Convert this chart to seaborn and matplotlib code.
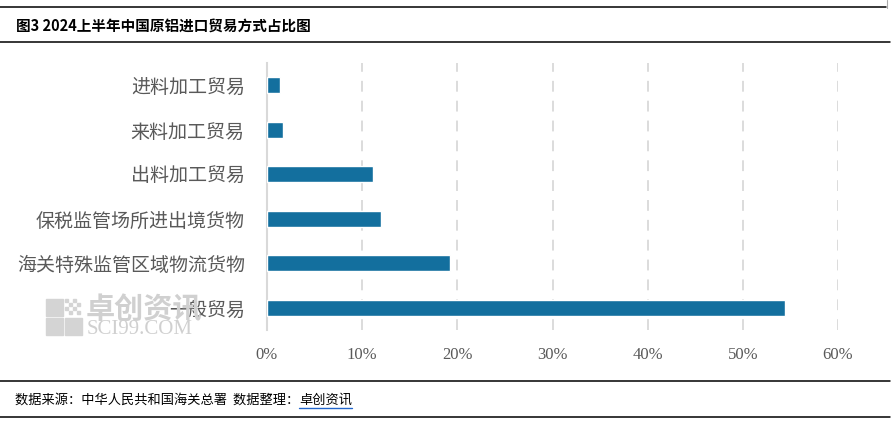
import numpy as np
import pandas as pd
import matplotlib
matplotlib.use("Agg")
import matplotlib.pyplot as plt
import seaborn as sns
from matplotlib.lines import Line2D
from matplotlib.patches import Rectangle
from matplotlib.ticker import PercentFormatter

# data
categories = ['进料加工贸易', '来料加工贸易', '出料加工贸易',
              '保税监管场所进出境货物', '海关特殊监管区域物流货物', '一般贸易']
shares = [1.4, 1.7, 11.1, 12.0, 19.2, 54.4]
xticks = [0, 10, 20, 30, 40, 50, 60]

title = '图3 2024上半年中国原铝进口贸易方式占比图'
source = '数据来源：中华人民共和国海关总署  数据整理：'
source_link = '卓创资讯'

BAR = '#136f9e'
GRID = '#d9d9d9'
TXT = '#595959'
WM = '#d0d0d0'

sns.set_theme(style='white')
plt.rcParams['font.family'] = ['Noto Sans CJK SC', 'DejaVu Sans']

df = pd.DataFrame({'cat': categories, 'share': shares})

W, H = 892, 422
fig = plt.figure(figsize=(W / 100, H / 100), dpi=100)
ax = fig.add_axes([267 / W, 1 - 330 / H, (838 - 267) / W, (330 - 63) / H])

# watermark behind the chart
for (x0, y0) in [(46, 299), (46, 318), (65, 318)]:
    fig.patches.append(Rectangle((x0 / W, 1 - (y0 + 17) / H), 17 / W, 17 / H,
                                 transform=fig.transFigure, color='#d4d4d4', zorder=0))
for i in range(4):
    for j in range(4):
        if (i + j) % 2 == 0:
            fig.patches.append(Rectangle(((65 + i * 4) / W, 1 - (299 + j * 4 + 3) / H), 3 / W, 3 / H,
                                         transform=fig.transFigure, color='#d4d4d4', zorder=0))
fig.text(86 / W, 1 - 309 / H, '卓创资讯', fontsize=21, color=WM,
         fontweight='bold', va='center', ha='left', zorder=0)
fig.text(87 / W, 1 - 329 / H, 'SCI99.COM', fontsize=15, color=WM,
         family='Liberation Serif', va='center', ha='left', zorder=0)

ax.patch.set_alpha(0)
sns.barplot(data=df, x='share', y='cat', color=BAR, width=0.36,
            saturation=1, ax=ax, zorder=3)

ax.set_xlim(0, 60)
ax.set_xticks(xticks)
ax.xaxis.set_major_formatter(PercentFormatter(decimals=0))
ax.set_xlabel('')
ax.set_ylabel('')
for t in xticks[1:]:
    ax.axvline(t, color=GRID, lw=1.3, ls=(0, (6, 5)), zorder=1)
for s in ['top', 'right', 'bottom']:
    ax.spines[s].set_visible(False)
ax.spines['left'].set_color(GRID)
ax.spines['left'].set_linewidth(1.5)
ax.tick_params(axis='x', length=0, pad=12, labelsize=12, labelcolor=TXT)
ax.tick_params(axis='y', length=0, pad=16, labelsize=13.7, labelcolor=TXT)
for lab in ax.get_xticklabels():
    lab.set_family('Liberation Serif')

# header / footer rules
for y, x1 in [(7, 886), (42, 890), (381, 890), (417, 890)]:
    fig.add_artist(Line2D([0, x1 / W], [1 - y / H, 1 - y / H], color='black', lw=1.1,
                          transform=fig.transFigure))
fig.add_artist(Line2D([887 / W, 887 / W], [1 - 0 / H, 1 - 8 / H], color='#aaaaaa', lw=0.8,
                      transform=fig.transFigure))

fig.text(16 / W, 1 - 26 / H, title, fontsize=10.5, fontweight='bold', color='black',
         va='center', ha='left')
src = fig.text(15 / W, 1 - 400 / H, source, fontsize=9.5, color='black', va='center', ha='left')
fig.canvas.draw()
bb = src.get_window_extent()
lnk = fig.text(bb.x1 / W, 1 - 400 / H, source_link, fontsize=9.5, color='black',
               va='center', ha='left')
fig.canvas.draw()
lb = lnk.get_window_extent()
fig.add_artist(Line2D([lb.x0 / W, lb.x1 / W], [(lb.y0 - 1) / H, (lb.y0 - 1) / H],
                      color='#2266cc', lw=1.0, transform=fig.transFigure))

fig.savefig('out.png', dpi=100)
